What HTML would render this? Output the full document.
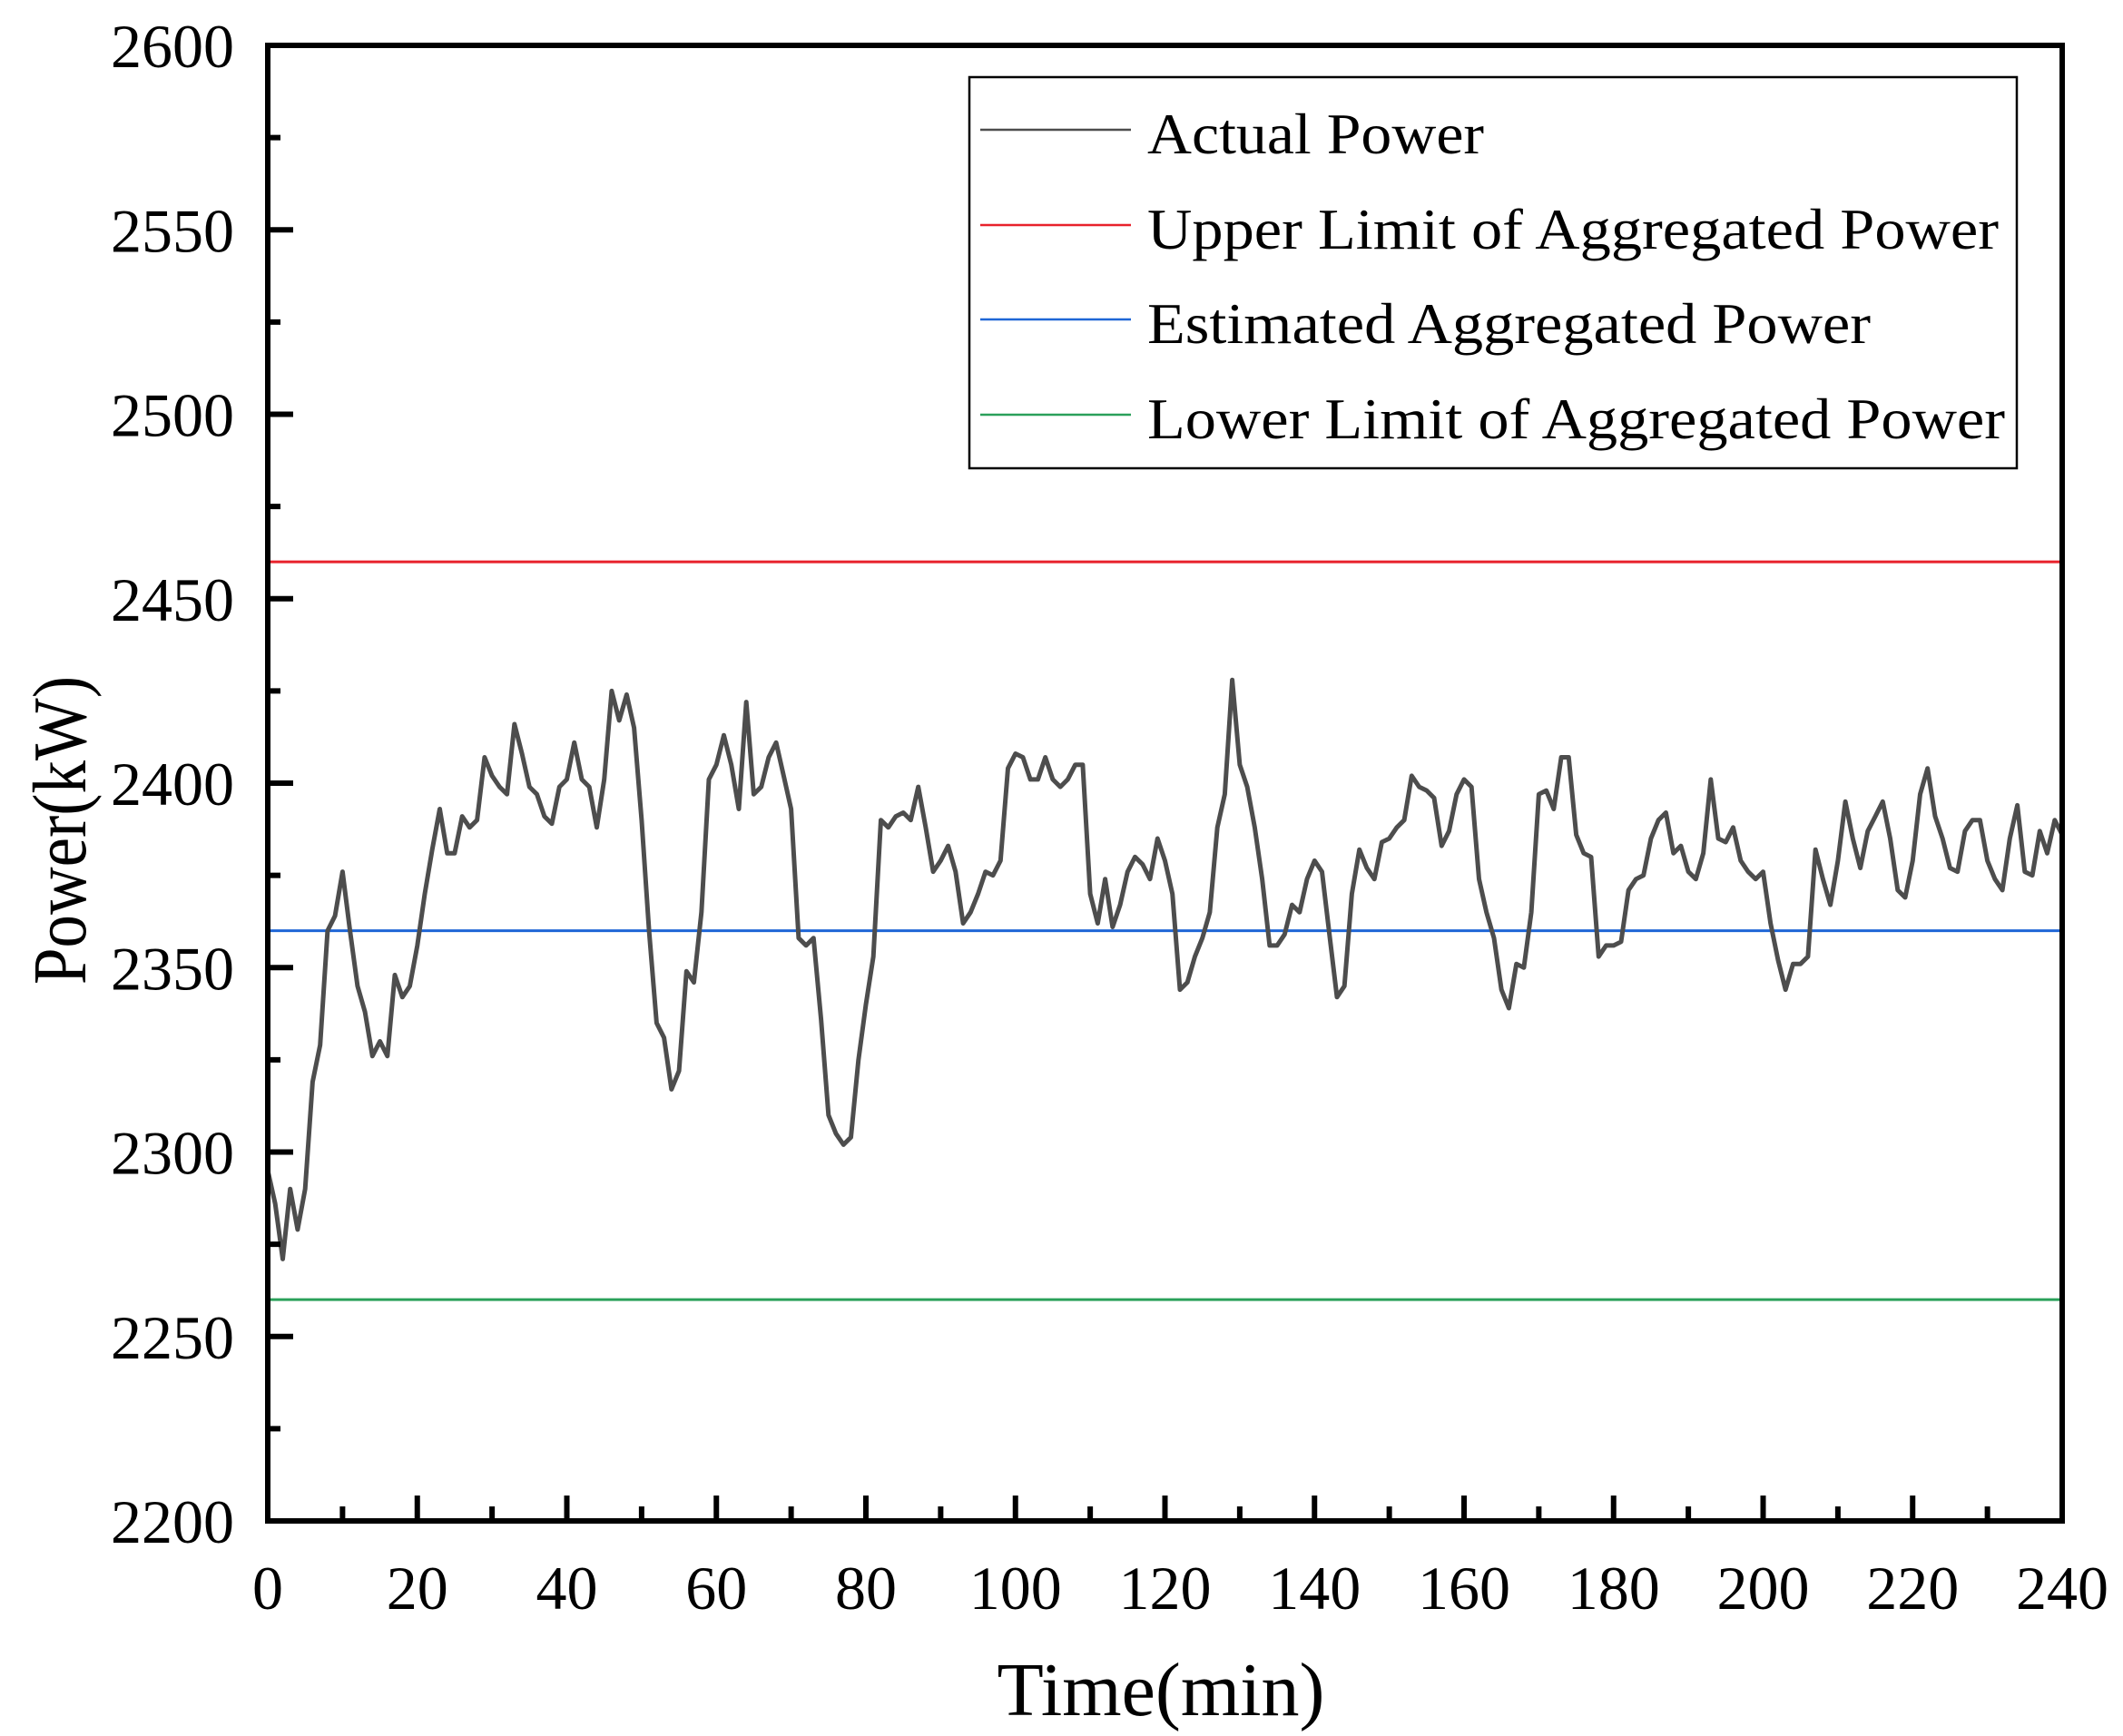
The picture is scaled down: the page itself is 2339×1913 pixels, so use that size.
<!DOCTYPE html>
<html><head><meta charset="utf-8"><style>
html,body{margin:0;padding:0;background:#fff;}
svg{display:block;}
text{font-family:"Liberation Serif","Noto Serif CJK SC",serif;fill:#000;}
</style></head><body>
<svg id="chart" width="2339" height="1913" viewBox="0 0 2339 1913" xmlns="http://www.w3.org/2000/svg">
<g id="plot"></g>
<g id="axes"></g>
<g id="legend"></g>
</svg>
<script>
const minutes = [];
const actualPower = [2295,2286,2271,2290,2279,2290,2319,2329,2360,2364,2376,2360,2345,2338,2326,2330,2326,2348,2342,2345,2356,2370,2382,2393,2381,2381,2391,2388,2390,2407,2402,2399,2397,2416,2408,2399,2397,2391,2389,2399,2401,2411,2401,2399,2388,2401,2425,2417,2424,2415,2390,2360,2335,2331,2317,2322,2349,2346,2365,2401,2405,2413,2405,2393,2422,2397,2399,2407,2411,2402,2393,2358,2356,2358,2336,2310,2305,2302,2304,2325,2340,2353,2390,2388,2391,2392,2390,2399,2388,2376,2379,2383,2376,2362,2365,2370,2376,2375,2379,2404,2408,2407,2401,2401,2407,2401,2399,2401,2405,2405,2370,2362,2374,2361,2367,2376,2380,2378,2374,2385,2379,2370,2344,2346,2353,2358,2365,2388,2397,2428,2405,2399,2388,2374,2356,2356,2359,2367,2365,2374,2379,2376,2359,2342,2345,2370,2382,2377,2374,2384,2385,2388,2390,2402,2399,2398,2396,2383,2387,2397,2401,2399,2374,2365,2358,2344,2339,2351,2350,2365,2397,2398,2393,2407,2407,2386,2381,2380,2353,2356,2356,2357,2371,2374,2375,2385,2390,2392,2381,2383,2376,2374,2381,2401,2385,2384,2388,2379,2376,2374,2376,2362,2352,2344,2351,2351,2353,2382,2374,2367,2379,2395,2385,2377,2387,2391,2395,2385,2371,2369,2379,2397,2404,2391,2385,2377,2376,2387,2390,2390,2379,2374,2371,2385,2394,2376,2375,2387,2381,2390,2386];
for (let i = 0; i < actualPower.length; i++) minutes.push(i);
const upperLimit = 2460;
const estimatedPower = 2360;
const lowerLimit = 2260;
const xTicks = [0,20,40,60,80,100,120,140,160,180,200,220,240];
const yTicks = [2200,2250,2300,2350,2400,2450,2500,2550,2600];
const legendLabels = ["Actual Power","Upper Limit of Aggregated Power","Estimated Aggregated Power","Lower Limit of Aggregated Power"];
const legendColors = ["#4d4d4d","#e8212b","#1f66d6","#2aa05a"];

const NS = "http://www.w3.org/2000/svg";
const L = 295, R = 2272, T = 50, B = 1676;
const xMin = 0, xMax = 240, yMin = 2200, yMax = 2600;
const sx = v => L + (v - xMin) / (xMax - xMin) * (R - L);
const sy = v => B - (v - yMin) / (yMax - yMin) * (B - T);
function mk(tag, attrs, parent) {
  const e = document.createElementNS(NS, tag);
  for (const k in attrs) e.setAttribute(k, attrs[k]);
  parent.appendChild(e); return e;
}
const plot = document.getElementById('plot');
const axes = document.getElementById('axes');
const legend = document.getElementById('legend');

const refs = [[upperLimit, legendColors[1], 'upper-limit-line'], [estimatedPower, legendColors[2], 'estimated-power-line'], [lowerLimit, legendColors[3], 'lower-limit-line']];
refs.forEach(r => {
  const ln = mk('line', {x1: L, x2: R, y1: sy(r[0]), y2: sy(r[0]), stroke: r[1], 'stroke-width': 3}, plot);
  
  
});
const pts = actualPower.map((v, i) => sx(minutes[i]).toFixed(1) + ',' + sy(v).toFixed(1)).join(' ');
const pl = mk('polyline', {points: pts, fill: 'none', stroke: '#4d4d4d', 'stroke-width': 5, 'stroke-linejoin': 'round'}, plot);



const fr = mk('rect', {x: L, y: T, width: R - L, height: B - T, fill: 'none', stroke: '#000', 'stroke-width': 6}, axes);



xTicks.forEach((v, i) => {
  const x = sx(v);
  const t = mk('line', {x1: x, x2: x, y1: B, y2: B - 28, stroke: '#000', 'stroke-width': 6}, axes);
  
  
  if (i < xTicks.length - 1) {
    const xm = sx(v + 10);
    const m = mk('line', {x1: xm, x2: xm, y1: B, y2: B - 16, stroke: '#000', 'stroke-width': 6}, axes);
    
    
  }
  const lb = mk('text', {x: x, y: 1773, 'font-size': 68, 'text-anchor': 'middle'}, axes);
  lb.textContent = v;
  
  
});
yTicks.forEach((v, i) => {
  const y = sy(v);
  const t = mk('line', {x1: L, x2: L + 28, y1: y, y2: y, stroke: '#000', 'stroke-width': 6}, axes);
  
  
  if (i < yTicks.length - 1) {
    const ym = sy(v + 25);
    const m = mk('line', {x1: L, x2: L + 14, y1: ym, y2: ym, stroke: '#000', 'stroke-width': 6}, axes);
    
    
  }
  const lb = mk('text', {x: 258, y: y + 24, 'font-size': 68, 'text-anchor': 'end'}, axes);
  lb.textContent = v;
  
  
});
const xt = mk('text', {x: 1279, y: 1890, 'font-size': 84, 'text-anchor': 'middle'}, axes);
xt.textContent = 'Time(min)';


const yt = mk('text', {x: -170, y: 0, 'font-size': 84, textLength: 340, lengthAdjust: 'spacingAndGlyphs', transform: 'translate(94,915) rotate(-90)'}, axes);
yt.textContent = 'Power(kW)';



const lbox = mk('rect', {x: 1068, y: 85, width: 1154, height: 431, fill: '#fff', stroke: '#000', 'stroke-width': 2.5}, legend);


const legendY = [143, 248, 352, 457];
const legendW = [371, 938, 797, 945];
legendLabels.forEach((s, i) => {
  const y = legendY[i];
  const ln = mk('line', {x1: 1080, x2: 1246, y1: y, y2: y, stroke: legendColors[i], 'stroke-width': 2.5}, legend);
  
  
  const tx = mk('text', {x: 1264, y: y + 26, 'font-size': 64, textLength: legendW[i], lengthAdjust: 'spacingAndGlyphs'}, legend);
  tx.textContent = s;
  
  
});
</script>
</body></html>
